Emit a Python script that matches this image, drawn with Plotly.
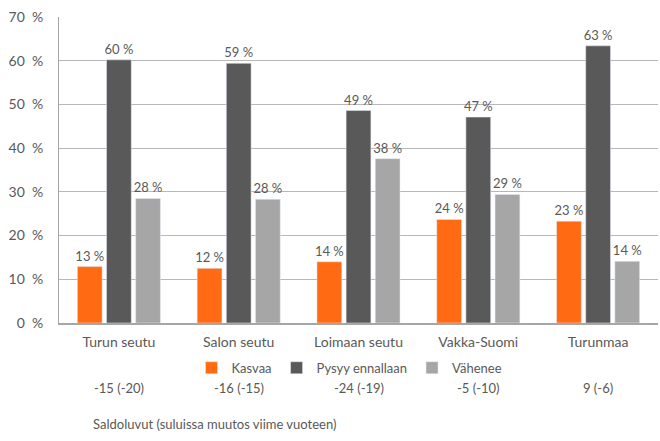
import plotly.graph_objects as go

alueet = ['Turun seutu', 'Salon seutu', 'Loimaan seutu', 'Vakka-Suomi', 'Turunmaa']
kasvaa = [12.9, 12.5, 14.0, 23.7, 23.3]
pysyy = [60.2, 59.4, 48.6, 47.1, 63.4]
vahenee = [28.5, 28.3, 37.6, 29.4, 14.1]
saldot = ['-15 (-20)', '-16 (-15)', '-24 (-19)', '-5 (-10)', '9 (-6)']

fontti = 'Lato, Noto Sans, sans-serif'
harmaa = '#595959'

fig = go.Figure()
for nimi, arvot, vari in [('Kasvaa', kasvaa, '#FF6A13'),
                          ('Pysyy ennallaan', pysyy, '#595959'),
                          ('Vähenee', vahenee, '#A6A6A6')]:
    fig.add_trace(go.Bar(x=alueet, y=arvot, name=nimi, marker_color=vari,
                         text=[f'{v:.0f} %' for v in arvot], textposition='outside',
                         constraintext='none', textfont=dict(size=13, color=harmaa),
                         cliponaxis=False))

# saldoluvut kategorioiden alle
for alue, s in zip(alueet, saldot):
    fig.add_annotation(x=alue, y=-0.245, xref='x', yref='paper', text=s,
                       showarrow=False, font=dict(size=13, color=harmaa))
fig.add_annotation(x=0.053, y=-0.363, xref='paper', yref='paper', xanchor='left',
                   text='Saldoluvut (suluissa muutos viime vuoteen)', showarrow=False,
                   font=dict(size=13, color=harmaa))

fig.update_layout(
    width=660, height=441,
    margin=dict(l=59, r=2, t=17, b=118, autoexpand=False),
    plot_bgcolor='white', paper_bgcolor='white',
    font=dict(family=fontti, size=13, color=harmaa),
    barmode='group', bargap=0.27, bargroupgap=0.15,
    legend=dict(orientation='h', x=0.485, xanchor='center', y=0.166, yanchor='middle',
                yref='container', font=dict(size=13, color=harmaa), itemwidth=30,
                tracegroupgap=0),
    yaxis=dict(range=[0, 70], dtick=10, ticksuffix='\u00a0\u00a0%', gridcolor='#B8B8B8',
               showline=True, linecolor='#A6A6A6', zeroline=False, ticks='',
               ticklabelstandoff=12, tickfont=dict(size=14), automargin=False),
    xaxis=dict(showline=True, linecolor='#A6A6A6', linewidth=2, ticks='',
               ticklabelstandoff=5, tickfont=dict(size=14), automargin=False),
    showlegend=True,
)

# sivun oletusmarginaali pois, jotta kuva alkaa vasemmasta yläkulmasta
fig.write_html('out.html', config={'displayModeBar': False},
               post_script="document.body.style.margin='0';")
